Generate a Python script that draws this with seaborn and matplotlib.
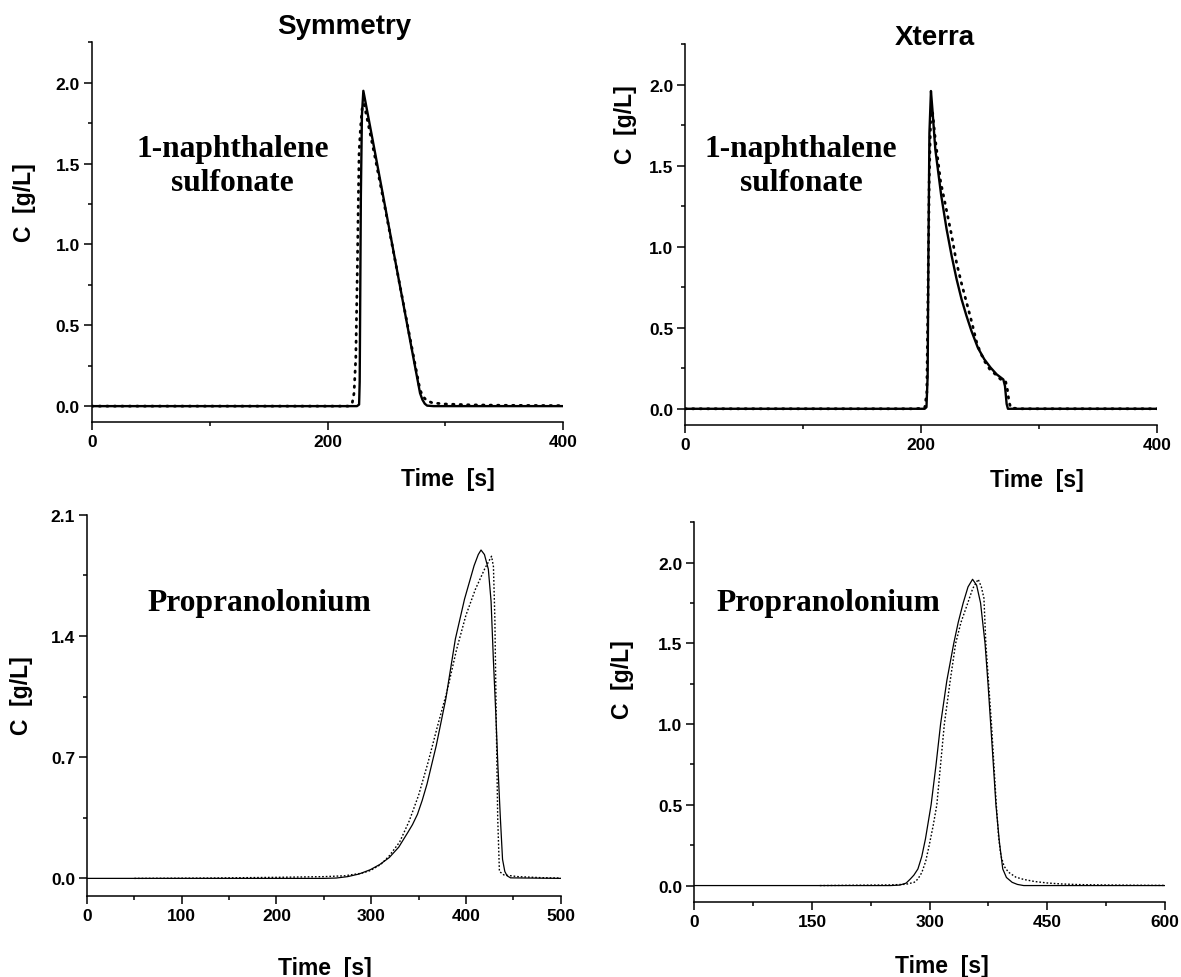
import matplotlib
matplotlib.use("Agg")
import matplotlib.pyplot as plt
import seaborn as sns
import pandas as pd
from matplotlib.ticker import FixedLocator, FormatStrFormatter

# ---------------- data ----------------
# Panel 1: Symmetry, 1-naphthalene sulfonate
p1_t_solid = [0, 225, 226.8, 227.3, 227.7, 228.3, 229.2, 230.4, 240, 250, 260, 270, 278.5, 280.5, 282.5, 284.5, 290, 400]
p1_c_solid = [0, 0, 0.01, 0.15, 0.6, 1.3, 1.8, 1.95, 1.58, 1.19, 0.80, 0.41, 0.08, 0.04, 0.015, 0.003, 0, 0]
p1_t_dot = [0, 218, 221, 222.5, 224, 225.2, 226.2, 226.8, 228, 229.5, 231, 240, 250, 260, 270, 278.5, 281, 284, 289, 300, 320, 350, 400]
p1_c_dot = [0, 0, 0.02, 0.08, 0.3, 0.8, 1.3, 1.57, 1.72, 1.85, 1.87, 1.55, 1.18, 0.80, 0.42, 0.10, 0.06, 0.035, 0.02, 0.013, 0.008, 0.005, 0.003]

# Panel 2: Xterra, 1-naphthalene sulfonate
p2_t_solid = [0, 203, 204.5, 205.5, 206.2, 207, 208.3, 209.5, 212, 217, 221.5, 225.8, 230, 234.2, 238.4, 242.6, 248, 253.5, 258.8, 264, 269.6, 271, 272.4, 273.5, 400]
p2_c_solid = [0, 0, 0.01, 0.2, 1.0, 1.7, 1.96, 1.85, 1.60, 1.315, 1.11, 0.944, 0.80, 0.676, 0.573, 0.48, 0.377, 0.305, 0.254, 0.212, 0.181, 0.14, 0.03, 0, 0]
p2_t_dot = [0, 195, 203, 204.8, 205.8, 206.8, 208, 209.5, 212, 216.5, 221.6, 225.8, 230, 234.3, 238.5, 243, 247, 250, 254, 258, 262.5, 266, 268.5, 271.5, 273, 274.5, 276, 285, 400]
p2_c_dot = [0, 0, 0.005, 0.1, 0.7, 1.4, 1.78, 1.84, 1.66, 1.40, 1.22, 1.07, 0.90, 0.77, 0.655, 0.53, 0.41, 0.35, 0.29, 0.245, 0.215, 0.19, 0.175, 0.17, 0.12, 0.04, 0.005, 0, 0]

# Panel 3: Symmetry, Propranolonium
p3_t_solid = [0, 250, 263, 275, 287, 299, 309, 319, 329, 338.7, 343.5, 348.8, 353.8, 358.9, 368.6, 378.7, 388.8, 398.5, 408.6, 413, 415.9, 419.5, 423.6, 426.5, 428.9, 431.5, 433.7, 436.3, 438.6, 441, 443.4, 447, 500]
p3_c_solid = [0, 0, 0.002, 0.01, 0.025, 0.05, 0.08, 0.12, 0.18, 0.266, 0.31, 0.37, 0.45, 0.545, 0.766, 1.036, 1.382, 1.613, 1.806, 1.87, 1.896, 1.87, 1.786, 1.6, 1.267, 0.95, 0.65, 0.35, 0.11, 0.04, 0.015, 0.003, 0]
p3_t_dot = [50, 130, 200, 250, 272, 290, 299, 310, 319, 330, 340, 350, 360, 370, 380, 390, 400, 410, 420, 425, 427, 429, 430.5, 432, 433.5, 435.3, 440, 455, 480, 500]
p3_c_dot = [0, 0.002, 0.006, 0.01, 0.015, 0.03, 0.045, 0.08, 0.13, 0.21, 0.33, 0.48, 0.67, 0.88, 1.08, 1.32, 1.52, 1.67, 1.79, 1.84, 1.86, 1.80, 1.5, 0.9, 0.35, 0.04, 0.02, 0.01, 0.004, 0.002]

# Panel 4: Xterra, Propranolonium
p4_t_solid = [0, 250, 262, 270, 275.5, 280, 285.1, 290, 294.7, 301.9, 308, 314, 322, 330.8, 336.5, 342.8, 349, 354.8, 360, 365, 370.7, 374.5, 377.9, 381.3, 384.6, 389, 393.3, 398, 405.3, 412, 420, 600]
p4_c_solid = [0, 0, 0.003, 0.015, 0.041, 0.065, 0.103, 0.18, 0.289, 0.5, 0.74, 1.0, 1.27, 1.5, 1.63, 1.75, 1.85, 1.897, 1.86, 1.75, 1.5, 1.25, 1.0, 0.75, 0.5, 0.27, 0.103, 0.05, 0.02, 0.007, 0, 0]
p4_t_dot = [160, 250, 270, 280.3, 285, 290, 295, 299.5, 304.5, 309.2, 314, 318.8, 326, 333.2, 340, 347.6, 355, 362, 366, 369.3, 371.7, 375.3, 378.9, 382, 385.1, 388, 390.9, 395, 400.5, 410, 420, 434.1, 450, 467.8, 490, 515.9, 560, 600]
p4_c_dot = [0, 0.004, 0.008, 0.02, 0.04, 0.08, 0.15, 0.25, 0.37, 0.5, 0.75, 1.0, 1.26, 1.5, 1.63, 1.735, 1.84, 1.897, 1.85, 1.78, 1.5, 1.25, 1.0, 0.75, 0.5, 0.3, 0.186, 0.12, 0.083, 0.052, 0.038, 0.025, 0.016, 0.01, 0.006, 0.004, 0.002, 0.001]

titles = ["Symmetry", "Xterra", "", ""]
annotations = ["1-naphthalene\nsulfonate", "1-naphthalene\nsulfonate", "Propranolonium", "Propranolonium"]
x_major = [[0, 200, 400], [0, 200, 400], [0, 100, 200, 300, 400, 500], [0, 150, 300, 450, 600]]
x_minor = [[100, 300], [100, 300], [50, 150, 250, 350, 450], [75, 225, 375, 525]]
y_major = [[0.0, 0.5, 1.0, 1.5, 2.0], [0.0, 0.5, 1.0, 1.5, 2.0], [0.0, 0.7, 1.4, 2.1], [0.0, 0.5, 1.0, 1.5, 2.0]]
y_minor = [[0.25, 0.75, 1.25, 1.75, 2.25], [0.25, 0.75, 1.25, 1.75, 2.25], [0.35, 1.05, 1.75], [0.25, 0.75, 1.25, 1.75, 2.25]]
x_label = "Time  [s]"
y_label = "C  [g/L]"

# ---------------- style ----------------
sns.set_style("ticks")
plt.rcParams["font.family"] = ["Liberation Sans", "DejaVu Sans"]
plt.rcParams["font.weight"] = "bold"
plt.rcParams["axes.labelweight"] = "bold"
plt.rcParams["text.color"] = "black"
plt.rcParams["axes.labelcolor"] = "black"
plt.rcParams["xtick.color"] = "black"
plt.rcParams["ytick.color"] = "black"
plt.rcParams["axes.edgecolor"] = "black"

fig = plt.figure(figsize=(11.81, 9.78), dpi=100)

positions = [
    [0.07765, 0.56718, 0.39932, 0.38855],
    [0.58002, 0.56442, 0.39991, 0.38957],
    [0.07367, 0.08313, 0.40110, 0.38957],
    [0.58798, 0.07699, 0.39831, 0.38793],
]
xlims = [(0, 400), (0, 400), (0, 500), (0, 600)]
ylims = [(-0.1, 2.25), (-0.1, 2.25), (-0.1, 2.1), (-0.1, 2.25)]
xlabel_pos = [(0.756, -0.147), (0.745, -0.144), (0.503, -0.188), (0.527, -0.169)]
ylabel_pos = [(-0.143, 0.581), (-0.127, 0.790), (-0.139, 0.529), (-0.152, 0.587)]
title_pos = [(0.536, 1.0437), (0.529, 1.0176), None, None]
annot_pos = [(0.2986, 0.675), (0.2456, 0.6806), (0.3633, 0.770), (0.284, 0.789)]

series = [
    (p1_t_solid, p1_c_solid, p1_t_dot, p1_c_dot),
    (p2_t_solid, p2_c_solid, p2_t_dot, p2_c_dot),
    (p3_t_solid, p3_c_solid, p3_t_dot, p3_c_dot),
    (p4_t_solid, p4_c_solid, p4_t_dot, p4_c_dot),
]

for i in range(4):
    ax = fig.add_axes(positions[i])
    ts, cs, td, cd = series[i]
    top = i < 2
    solid_lw = 1.7 if top else 0.9
    df_s = pd.DataFrame({"t": ts, "c": cs})
    df_d = pd.DataFrame({"t": td, "c": cd})
    sns.lineplot(data=df_s, x="t", y="c", ax=ax, color="black", linewidth=solid_lw,
                 estimator=None, sort=False)
    if top:
        sns.lineplot(data=df_d, x="t", y="c", ax=ax, color="black", linewidth=2.0,
                     linestyle=(0, (0.5, 2.2)), dash_capstyle="round",
                     estimator=None, sort=False)
    else:
        sns.lineplot(data=df_d, x="t", y="c", ax=ax, color="black", linewidth=1.0,
                     linestyle=(0, (1.2, 1.4)), estimator=None, sort=False)

    ax.set_xlim(*xlims[i])
    ax.set_ylim(*ylims[i])
    ax.xaxis.set_major_locator(FixedLocator(x_major[i]))
    ax.xaxis.set_minor_locator(FixedLocator(x_minor[i]))
    ax.yaxis.set_major_locator(FixedLocator(y_major[i]))
    ax.yaxis.set_minor_locator(FixedLocator(y_minor[i]))
    ax.xaxis.set_major_formatter(FormatStrFormatter("%d"))
    ax.yaxis.set_major_formatter(FormatStrFormatter("%.1f"))

    for side in ["top", "right"]:
        ax.spines[side].set_visible(False)
    for side in ["left", "bottom"]:
        ax.spines[side].set_linewidth(1.1)
        ax.spines[side].set_color("black")
    ax.tick_params(which="major", direction="out", length=5.5, width=1.1,
                   labelsize=12.5, pad=3, colors="black")
    ax.tick_params(which="minor", direction="out", length=3.2, width=1.1, colors="black")
    for lbl in ax.get_xticklabels() + ax.get_yticklabels():
        lbl.set_fontweight("bold")

    ax.set_xlabel(x_label, fontsize=16.5, fontweight="bold", color="black")
    ax.set_ylabel(y_label, fontsize=16.5, fontweight="bold", color="black")
    ax.xaxis.label.set_va("center")
    ax.yaxis.label.set_va("center")
    ax.xaxis.set_label_coords(*xlabel_pos[i])
    ax.yaxis.set_label_coords(*ylabel_pos[i])

    if titles[i]:
        ax.set_title(titles[i], fontsize=20, fontweight="bold", color="black",
                     x=title_pos[i][0], y=title_pos[i][1], va="center", pad=0)

    ax.text(annot_pos[i][0], annot_pos[i][1], annotations[i], transform=ax.transAxes,
            ha="center", va="center", multialignment="center", color="black",
            family=["Liberation Serif", "DejaVu Serif"], fontweight="bold",
            fontsize=22.7, linespacing=1.22)
    ax.grid(False)

fig.savefig("out.png", dpi=100)
